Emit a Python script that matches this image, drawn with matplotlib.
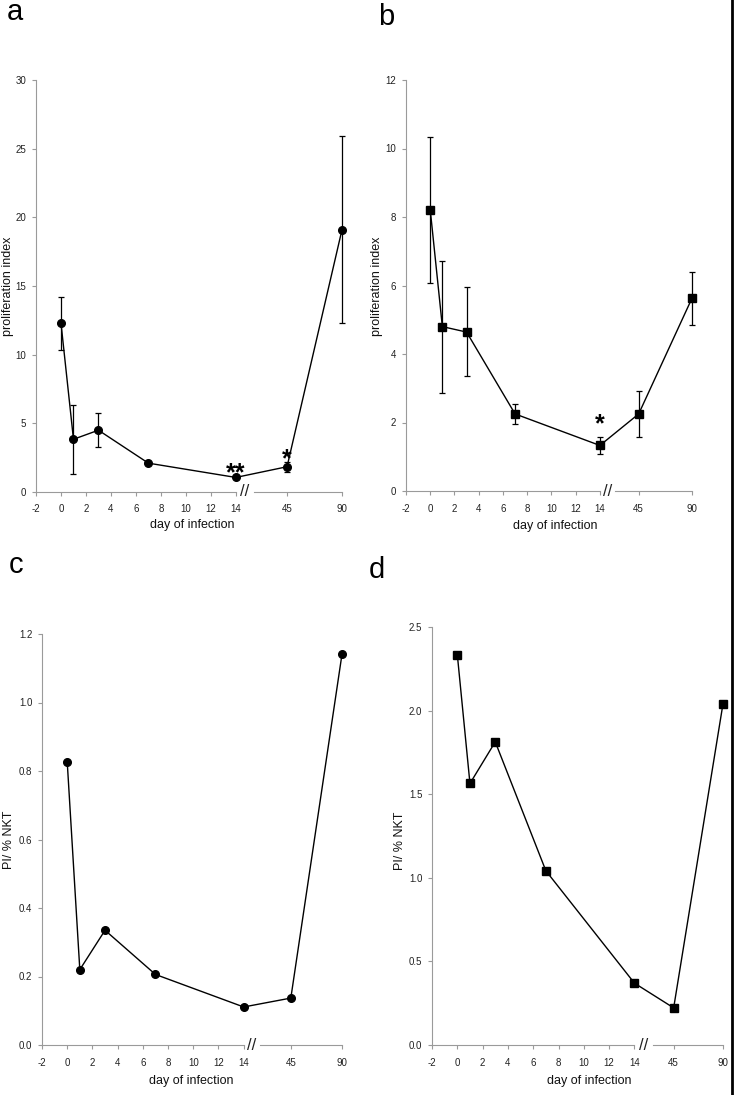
import numpy as np
import matplotlib.pyplot as plt
from matplotlib.ticker import FormatStrFormatter
from matplotlib.lines import Line2D

plt.rcParams['font.family'] = ['Liberation Sans', 'DejaVu Sans']

# days sampled, same for all four panels
days = [0, 1, 3, 7, 14, 45, 90]
xtick_labels = ['-2', '0', '2', '4', '6', '8', '10', '12', '14', '45', '90']

# panel a: proliferation index (circles)
a_vals = [12.3, 3.84, 4.5, 2.1, 1.06, 1.84, 19.1]
a_low = [10.34, 1.3, 3.25, 2.1, 1.06, 1.45, 12.3]
a_high = [14.2, 6.3, 5.78, 2.1, 1.06, 2.2, 25.9]

# panel b: proliferation index (squares)
b_vals = [8.21, 4.80, 4.64, 2.25, 1.33, 2.25, 5.63]
b_low = [6.08, 2.87, 3.37, 1.96, 1.08, 1.57, 4.85]
b_high = [10.35, 6.72, 5.95, 2.53, 1.57, 2.92, 6.38]

# panel c: PI / % NKT (circles)
c_vals = [0.827, 0.22, 0.335, 0.206, 0.111, 0.137, 1.141]

# panel d: PI / % NKT (squares)
d_vals = [2.335, 1.564, 1.813, 1.042, 0.370, 0.222, 2.041]

W, H = 734, 1095
fig = plt.figure(figsize=(W / 100, H / 100), dpi=100)

gray = '#9a9a9a'


def make_axes(px_left, px_right, px_top, px_bottom):
    return fig.add_axes([px_left / W, 1 - px_bottom / H,
                         (px_right - px_left) / W, (px_bottom - px_top) / H])


def xpos(d, p45, p90):
    # broken axis: linear up to 14, then 45 and 90 at fixed places
    if d <= 14:
        return d
    return p45 if d == 45 else p90


def style(ax, p45, p90, gap_end, ymax, ystep, fmt):
    x0 = -2
    ax.set_xlim(x0, p90)
    ax.set_ylim(0, ymax)
    for s in ['top', 'right', 'bottom']:
        ax.spines[s].set_visible(False)
    ax.spines['left'].set_color(gray)
    ax.spines['left'].set_linewidth(0.8)
    ax.set_yticks(np.arange(0, ymax + ystep / 2, ystep))
    ax.yaxis.set_major_formatter(FormatStrFormatter(fmt))
    ax.set_xticks(list(range(-2, 15, 2)) + [p45, p90])
    ax.set_xticklabels(xtick_labels)
    ax.tick_params(axis='both', colors=gray, labelcolor='#222222',
                   labelsize=7, length=3, width=0.8)
    ax.tick_params(axis='x', pad=6)
    ax.tick_params(axis='y', pad=4)
    # x axis drawn in two pieces with a break mark
    ax.plot([x0, 14], [0, 0], color=gray, lw=0.8, clip_on=False)
    ax.plot([gap_end, p90], [0, 0], color=gray, lw=0.8, clip_on=False)
    ax.text((14 + gap_end) / 2, 0, '//', ha='center', va='center',
            fontsize=12, color='#222222')


# ---- panel a
ax = make_axes(36, 342, 80, 492)
p45, p90 = 18.1, 22.5
xa = [xpos(d, p45, p90) for d in days]
yerr = [np.array(a_vals) - np.array(a_low), np.array(a_high) - np.array(a_vals)]
ax.errorbar(xa, a_vals, yerr=yerr, color='black', lw=1.0, marker='o', ms=5.5,
            capsize=2.5, elinewidth=0.9, capthick=0.9, clip_on=False)
style(ax, p45, p90, 15.44, 30, 5, '%d')
ax.text(14, 0.85, '**', ha='center', va='baseline', fontsize=18, fontweight='bold')
ax.text(p45, 1.85, '*', ha='center', va='baseline', fontsize=18, fontweight='bold')

# ---- panel b
ax = make_axes(406, 692, 80, 491)
p45, p90 = 17.2, 21.6
xb = [xpos(d, p45, p90) for d in days]
yerr = [np.array(b_vals) - np.array(b_low), np.array(b_high) - np.array(b_vals)]
ax.errorbar(xb, b_vals, yerr=yerr, color='black', lw=1.0, marker='s', ms=5.2,
            capsize=2.5, elinewidth=0.9, capthick=0.9, clip_on=False)
style(ax, p45, p90, 15.24, 12, 2, '%d')
ax.text(14, 1.75, '*', ha='center', va='baseline', fontsize=18, fontweight='bold')

# ---- panel c
ax = make_axes(42, 342, 634, 1045)
p45, p90 = 17.74, 21.8
xc = [xpos(d, p45, p90) for d in days]
ax.plot(xc, c_vals, color='black', lw=1.0, marker='o', ms=5.5, clip_on=False)
style(ax, p45, p90, 15.3, 1.2, 0.2, '%.1f')

# ---- panel d
ax = make_axes(432, 723, 627, 1045)
p45, p90 = 17.1, 21.0
xd = [xpos(d, p45, p90) for d in days]
ax.plot(xd, d_vals, color='black', lw=1.0, marker='s', ms=5.2, clip_on=False)
style(ax, p45, p90, 15.5, 2.5, 0.5, '%.1f')

# axis titles and panel letters in pixel places
lab = dict(fontsize=9, color='#111111', ha='center', va='center')
fig.text(8 / W, 1 - 286 / H, 'proliferation index', rotation=90, **lab)
fig.text(377 / W, 1 - 286 / H, 'proliferation index', rotation=90, **lab)
fig.text(9 / W, 1 - 840 / H, 'PI/ % NKT', rotation=90, **lab)
fig.text(400 / W, 1 - 841 / H, 'PI/ % NKT', rotation=90, **lab)
fig.text(192 / W, 1 - 525 / H, 'day of infection', **lab)
fig.text(555 / W, 1 - 526 / H, 'day of infection', **lab)
fig.text(191 / W, 1 - 1081 / H, 'day of infection', **lab)
fig.text(589 / W, 1 - 1081 / H, 'day of infection', **lab)

for letter, x, y in [('a', 7, 20), ('b', 378, 25), ('c', 9, 573), ('d', 369, 578)]:
    fig.text(x / W, 1 - y / H, letter, fontsize=21, ha='left', va='baseline')

# dark edge on the right side of the scan
fig.add_artist(Line2D([0.9975, 0.9975], [0, 1], color='black', lw=2,
                      transform=fig.transFigure))

fig.savefig('out.png', dpi=100)
